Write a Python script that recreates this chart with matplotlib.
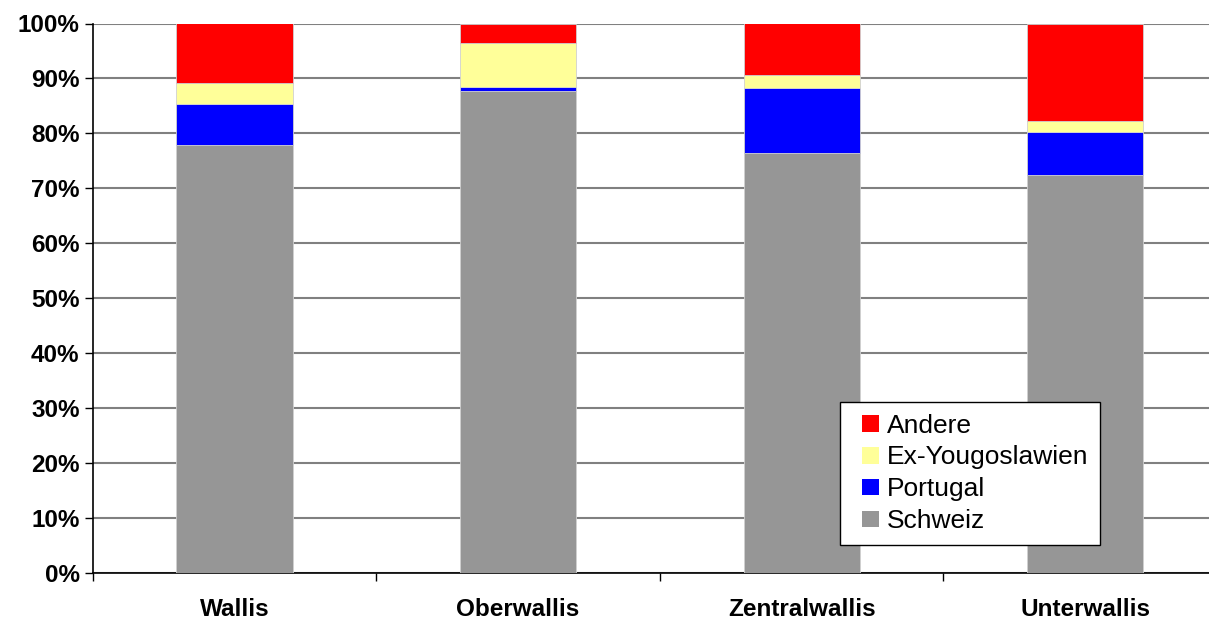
import numpy as np
import matplotlib
matplotlib.use("Agg")
import matplotlib.pyplot as plt
from matplotlib.patches import Patch, Rectangle
from matplotlib.legend_handler import HandlerPatch
from matplotlib.ticker import FixedLocator, PercentFormatter

plt.rcParams['font.family'] = ['Liberation Sans', 'DejaVu Sans']

# ------------------ DATA ------------------
regions = ["Wallis", "Oberwallis", "Zentralwallis", "Unterwallis"]
schweiz = [77.9, 87.7, 76.5, 72.5]
portugal = [7.4, 0.8, 11.7, 7.7]
ex_yu = [3.9, 8.0, 2.4, 2.1]
andere = [10.8, 3.5, 9.4, 17.7]

series = [
    ("Schweiz", schweiz, "#969696"),
    ("Portugal", portugal, "#0000ff"),
    ("Ex-Yougoslawien", ex_yu, "#ffff99"),
    ("Andere", andere, "#ff0000"),
]

# ------------------ PLOT ------------------
fig = plt.figure(figsize=(12.09, 6.19), dpi=100)
ax = fig.add_axes([92.7 / 1209, 45.7 / 619, (1227 - 92.7) / 1209, 549.8 / 619])

x = np.arange(len(regions))
bottom = np.zeros(len(regions))
colors = {}
for name, vals, col in series:
    ax.bar(x, vals, width=0.41, bottom=bottom, color=col,
           edgecolor="#d0d0d0", linewidth=0.6, label=name, zorder=3)
    bottom += np.array(vals)
    colors[name] = col

ax.set_xlim(-0.5, 3.5)
ax.set_ylim(0, 100)
ax.yaxis.set_major_locator(FixedLocator(np.arange(0, 101, 10)))
ax.yaxis.set_major_formatter(PercentFormatter(decimals=0))
ax.grid(axis="y", color="#808080", linewidth=1.5, zorder=0)
ax.set_axisbelow(True)

ax.set_xticks(x)
ax.set_xticklabels(regions, fontsize=17.5, fontweight="bold")
ax.xaxis.set_minor_locator(FixedLocator([-0.5, 0.5, 1.5, 2.5, 3.5]))
ax.tick_params(axis="x", which="major", length=0, pad=18)
ax.tick_params(axis="x", which="minor", length=6, width=1, direction="out")
ax.tick_params(axis="y", length=6, width=1, direction="out", labelsize=17.5)
for lbl in ax.get_yticklabels():
    lbl.set_fontweight("bold")

for side in ["top", "right"]:
    ax.spines[side].set_visible(False)
ax.spines["left"].set_linewidth(1.2)
ax.spines["bottom"].set_linewidth(1.2)


# small square pushed to the right end of the handle box (Excel style)
def square(legend, orig_handle, xdescent, ydescent, width, height, fontsize):
    return Rectangle((-xdescent + width - height, -ydescent), height, height)


leg_names = ["Andere", "Ex-Yougoslawien", "Portugal", "Schweiz"]
handles = [Patch(facecolor=colors[n], edgecolor="none") for n in leg_names]
leg = fig.legend(handles, leg_names,
                 loc="upper left", bbox_to_anchor=(840 / 1209, 1 - 401.7 / 619),
                 fontsize=19, fancybox=False, framealpha=1, edgecolor="black",
                 handlelength=1.02, handleheight=0.6, handletextpad=0.3,
                 labelspacing=0.3, borderpad=0.45, borderaxespad=0,
                 handler_map={Patch: HandlerPatch(patch_func=square)})
leg.get_frame().set_linewidth(1)

fig.savefig("out.png", dpi=100)
